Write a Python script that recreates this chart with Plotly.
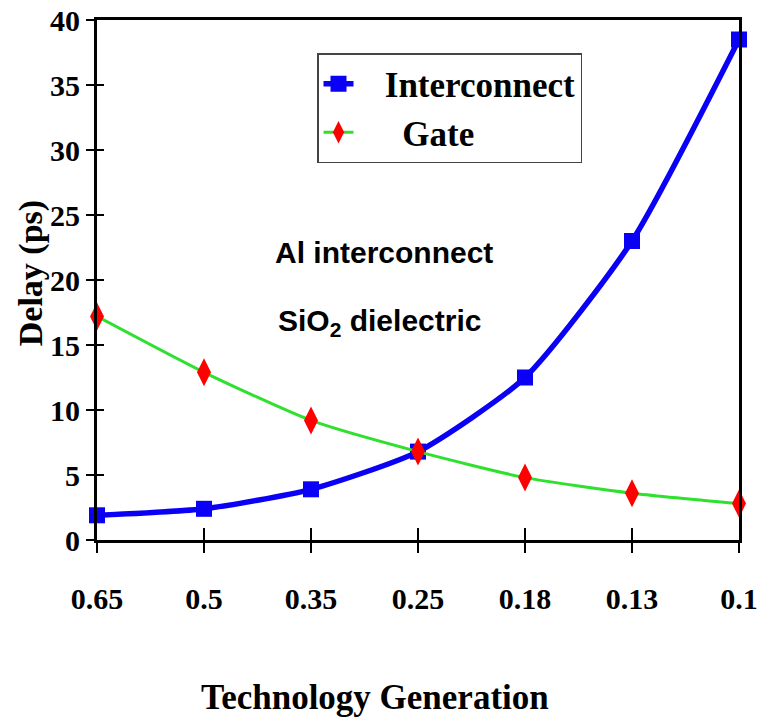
import plotly.graph_objects as go

generations = ["0.65", "0.5", "0.35", "0.25", "0.18", "0.13", "0.1"]
interconnect = [1.9, 2.4, 3.9, 6.8, 12.5, 23.0, 38.5]
gate = [17.2, 12.9, 9.2, 6.8, 4.8, 3.6, 2.8]
y_ticks = [0, 5, 10, 15, 20, 25, 30, 35, 40]

xpos = list(range(len(generations)))
serif = "Liberation Serif"
sans = "Liberation Sans"
NB = "\u00a0"

fig = go.Figure()
fig.add_trace(go.Scatter(
    x=xpos, y=interconnect, name=NB * 3 + "Interconnect", mode="lines+markers",
    line=dict(color="#0a00f5", width=5.5, shape="spline", smoothing=0.6),
    marker=dict(symbol="square", size=16, color="#0a00f5"),
    cliponaxis=False,
))
fig.add_trace(go.Scatter(
    x=xpos, y=gate, name=NB * 5 + "Gate", mode="lines+markers",
    line=dict(color="#2fe02f", width=3, shape="spline", smoothing=0.6),
    marker=dict(symbol="diamond-tall", size=20, color="#ff0000"),
    cliponaxis=False,
))
# invisible trace for the second (inside tick) axes
fig.add_trace(go.Scatter(x=[0], y=[0], xaxis="x2", yaxis="y2",
                         showlegend=False, mode="markers",
                         marker=dict(opacity=0), hoverinfo="skip"))

tickfont = dict(family=serif, size=30, color="black", weight="bold")
fig.update_layout(
    width=777, height=724,
    margin=dict(l=97, r=38, t=20, b=184),
    plot_bgcolor="white", paper_bgcolor="white",
    showlegend=True,
    xaxis=dict(
        range=[0, 6], tickmode="array", tickvals=xpos, ticktext=generations,
        showgrid=False, zeroline=False, showline=True, linecolor="black",
        linewidth=3, mirror=True, ticks="outside", ticklen=10, tickwidth=2,
        tickcolor="black", tickfont=tickfont, ticklabelstandoff=20,
        automargin=False, ticklabeloverflow="allow",
    ),
    yaxis=dict(
        range=[0, 40], tickmode="array", tickvals=y_ticks,
        showgrid=False, zeroline=False, showline=True, linecolor="black",
        linewidth=3, mirror=True, ticks="outside", ticklen=8, tickwidth=2,
        tickcolor="black", tickfont=tickfont, automargin=False,
        ticklabeloverflow="allow",
    ),
    xaxis2=dict(range=[0, 6], overlaying="x", tickmode="array",
                tickvals=xpos, ticks="inside", ticklen=12, tickwidth=2,
                tickcolor="black", showticklabels=False, showgrid=False,
                zeroline=False, side="bottom", automargin=False),
    yaxis2=dict(range=[0, 40], overlaying="y", tickmode="array", tickvals=y_ticks,
                ticks="inside", ticklen=7, tickwidth=2, tickcolor="black",
                showticklabels=False, showgrid=False, zeroline=False, side="left",
                automargin=False),
    legend=dict(
        x=0.3427, y=0.9365, xanchor="left", yanchor="top",
        bgcolor="white", bordercolor="#444", borderwidth=1.5,
        font=dict(family=serif, size=35, color="black", weight="bold"),
        itemwidth=30, tracegroupgap=0,
    ),
    font=dict(family=serif, color="black"),
)

# axis titles
fig.add_annotation(x=0.433, y=-0.302, xref="paper", yref="paper",
                   text="<b>Technology Generation</b>", showarrow=False,
                   xanchor="center", yanchor="middle",
                   font=dict(family=serif, size=35, color="black"))
fig.add_annotation(x=-0.1028, y=0.513, xref="paper", yref="paper",
                   text="<b>Delay (ps)</b>", showarrow=False, textangle=-90,
                   xanchor="center", yanchor="middle",
                   font=dict(family=serif, size=34, color="black"))

# in-plot labels
fig.add_annotation(x=2.68, y=22.1, xref="x", yref="y", text="<b>Al interconnect</b>",
                   showarrow=False, font=dict(family=sans, size=30, color="black"))
fig.add_annotation(x=2.64, y=16.7, xref="x", yref="y", text="<b>SiO<sub>2</sub> dielectric</b>",
                   showarrow=False, font=dict(family=sans, size=30, color="black"))

# remove the default page margin so the figure sits at the window's corner
fig.write_html("out.html", config={"displayModeBar": False},
               post_script="document.body.style.margin='0';")
